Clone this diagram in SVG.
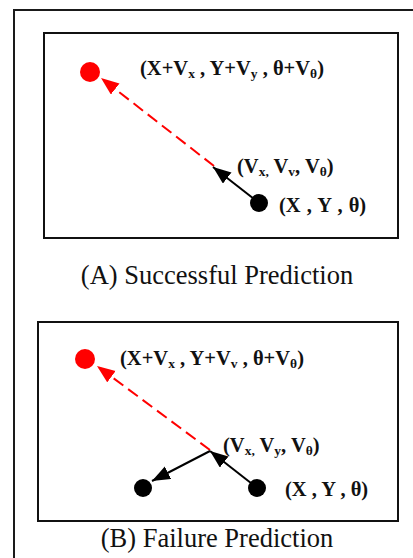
<svg xmlns="http://www.w3.org/2000/svg" width="413" height="558" viewBox="0 0 413 558">
<style>
.frame{fill:none;stroke:#1a1a1a;stroke-width:2}
.box{fill:#fff;stroke:#111;stroke-width:2}
.lbl{font-family:"Liberation Serif","Times New Roman",serif;font-weight:bold;font-size:20.5px;fill:#111}
.sub{font-size:13.5px}
.cap{font-family:"Liberation Serif","Times New Roman",serif;font-size:26.5px;fill:#111}
.red{fill:#f00}
.blk{fill:#000}
.dash{stroke:#f00;stroke-width:2;stroke-dasharray:12 6;fill:none}
.solid{stroke:#000;stroke-width:2;fill:none}
</style>
<defs>
<marker id="ahR" markerUnits="userSpaceOnUse" markerWidth="20" markerHeight="16" refX="18" refY="7" orient="auto"><path d="M0,0 L18,7 L0,14 z" fill="#f00"/></marker>
<marker id="ahK" markerUnits="userSpaceOnUse" markerWidth="20" markerHeight="16" refX="18" refY="7" orient="auto"><path d="M0,0 L18,7 L0,14 z" fill="#000"/></marker>
</defs>
<rect width="413" height="558" fill="#fff"/>
<path class="frame" d="M14,560 V10 H415"/>
<g id="panelA">
<rect class="box" x="44" y="33" width="354" height="205"/>
</g>
<g id="panelB">
<rect class="box" x="38" y="322" width="360" height="199"/>
</g>
<g id="connectors">
<line class="dash" x1="214" y1="166" x2="101" y2="78" marker-end="url(#ahR)"/>
<line class="solid" x1="258" y1="202" x2="213" y2="167" marker-end="url(#ahK)"/>
<line class="dash" x1="210" y1="450" x2="97" y2="366" marker-end="url(#ahR)"/>
<line class="solid" x1="256" y1="487" x2="210" y2="451" marker-end="url(#ahK)"/>
<line class="solid" x1="210" y1="451" x2="152" y2="481" marker-end="url(#ahK)"/>
</g>
<g id="nodeA_pred">
<circle class="red" cx="90" cy="72" r="10"/>
<text class="lbl" x="140" y="75">(X+V<tspan class="sub" dy="3">x</tspan><tspan dy="-3"> , Y+V</tspan><tspan class="sub" dy="3">y</tspan><tspan dy="-3"> , θ+V</tspan><tspan class="sub" dy="3">θ</tspan><tspan dy="-3">)</tspan></text>
</g>
<g id="nodeA_cur">
<circle class="blk" cx="259" cy="203" r="9"/>
<text class="lbl" x="237" y="173">(V<tspan class="sub" dy="3">x,</tspan><tspan dy="-3"> V</tspan><tspan class="sub" dy="3">v</tspan><tspan dy="-3">, V</tspan><tspan class="sub" dy="3">θ</tspan><tspan dy="-3">)</tspan></text>
<text class="lbl" x="279" y="212" font-size="21" word-spacing="1">(X , Y , θ)</text>
</g>
<g id="nodeB_pred">
<circle class="red" cx="85" cy="359" r="10"/>
<text class="lbl" x="120" y="365">(X+V<tspan class="sub" dy="3">x</tspan><tspan dy="-3"> , Y+V</tspan><tspan class="sub" dy="3">v</tspan><tspan dy="-3"> , θ+V</tspan><tspan class="sub" dy="3">θ</tspan><tspan dy="-3">)</tspan></text>
</g>
<g id="nodeB_cur">
<circle class="blk" cx="257" cy="488" r="9"/>
<circle class="blk" cx="143" cy="488" r="9"/>
<text class="lbl" x="223" y="452">(V<tspan class="sub" dy="3">x,</tspan><tspan dy="-3"> V</tspan><tspan class="sub" dy="3">y</tspan><tspan dy="-3">, V</tspan><tspan class="sub" dy="3">θ</tspan><tspan dy="-3">)</tspan></text>
<text class="lbl" x="285" y="496" font-size="20">(X , Y , θ)</text>
</g>
<g id="captions">
<text class="cap" x="217" y="284" text-anchor="middle">(A) Successful Prediction</text>
<text class="cap" x="217" y="547" text-anchor="middle">(B) Failure Prediction</text>
</g>
</svg>
